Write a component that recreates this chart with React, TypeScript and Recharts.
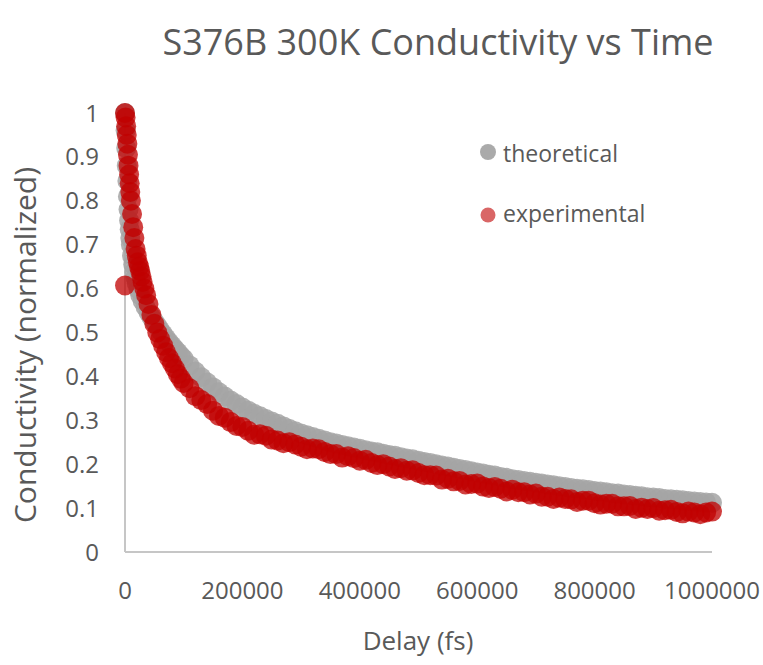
import React from 'react';
import { ScatterChart, Scatter, XAxis, YAxis, Label } from 'recharts';

const chartTitle = 'S376B 300K Conductivity vs Time';
const xTitle = 'Delay (fs)';
const yTitle = 'Conductivity (normalized)';
const seriesNames = ['theoretical', 'experimental'];
const seriesColors = ['#a5a5a5', '#c00000'];

const xTicks = [0, 200000, 400000, 600000, 800000, 1000000];
const yTicks = [0, 0.1, 0.2, 0.3, 0.4, 0.5, 0.6, 0.7, 0.8, 0.9, 1];

// theoretical curve (grey band)
const theoDelay = [
    0, 1000, 2000, 3000, 4000, 5000, 6000, 7000, 8000, 9000, 10000, 12000, 14000, 16000, 18000, 20000,
    23000, 26000, 30000, 35000, 40000, 45000, 50000, 55000, 60000, 65000, 70000, 75000, 80000, 85000,
    90000, 95000, 100000, 110000, 120000, 130000, 140000, 150000, 160000, 170000, 180000, 190000, 200000,
    210000, 220000, 230000, 240000, 250000, 260000, 270000, 280000, 290000, 300000, 310000, 320000,
    330000, 340000, 350000, 360000, 370000, 380000, 390000, 400000, 410000, 420000, 430000, 440000,
    450000, 460000, 470000, 480000, 490000, 500000, 510000, 520000, 530000, 540000, 550000, 560000,
    570000, 580000, 590000, 600000, 610000, 620000, 630000, 640000, 650000, 660000, 670000, 680000,
    690000, 700000, 710000, 720000, 730000, 740000, 750000, 760000, 770000, 780000, 790000, 800000,
    810000, 820000, 830000, 840000, 850000, 860000, 870000, 880000, 890000, 900000, 910000, 920000,
    930000, 940000, 950000, 960000, 970000, 980000, 990000, 1000000,
];
const theoValue = [
    1.0, 0.96, 0.92, 0.88, 0.845, 0.81, 0.78, 0.755, 0.735, 0.715, 0.7, 0.675, 0.655, 0.638, 0.625, 0.612,
    0.598, 0.585, 0.572, 0.558, 0.546, 0.535, 0.525, 0.515, 0.505, 0.496, 0.487, 0.478, 0.47, 0.462,
    0.455, 0.447, 0.44, 0.425, 0.411, 0.398, 0.386, 0.375, 0.364, 0.354, 0.345, 0.337, 0.329,
    0.322, 0.315, 0.309, 0.303, 0.297, 0.292, 0.286, 0.28, 0.275, 0.27, 0.266, 0.262,
    0.258, 0.254, 0.25, 0.247, 0.244, 0.241, 0.238, 0.235, 0.232, 0.229, 0.227, 0.224,
    0.221, 0.219, 0.216, 0.213, 0.211, 0.208, 0.205, 0.203, 0.2, 0.197, 0.195, 0.192,
    0.189, 0.187, 0.184, 0.181, 0.179, 0.176, 0.174, 0.171, 0.169, 0.166, 0.164, 0.162,
    0.16, 0.158, 0.156, 0.154, 0.152, 0.15, 0.148, 0.146, 0.144, 0.143, 0.141, 0.139,
    0.138, 0.136, 0.134, 0.133, 0.131, 0.13, 0.128, 0.127, 0.125, 0.124, 0.123, 0.121,
    0.12, 0.119, 0.118, 0.116, 0.115, 0.114, 0.113, 0.112,
];

// experimental points (red)
const expDelay = [
    0, 0, 1000, 2000, 3000, 4000, 5000, 6000, 7000, 8000, 9000, 10000, 12000, 14000, 16000, 18000, 20000,
    22000, 24000, 26000, 28000, 30000, 33000, 36000, 40000, 45000, 50000, 55000, 60000, 65000, 70000,
    75000, 80000, 85000, 90000, 95000, 100000, 110000, 120000, 130000, 140000, 150000, 160000, 170000,
    180000, 190000, 200000, 210000, 220000, 230000, 240000, 250000, 260000, 270000, 280000, 290000,
    300000, 310000, 320000, 330000, 340000, 350000, 360000, 370000, 380000, 390000, 400000, 410000,
    420000, 430000, 440000, 450000, 460000, 470000, 480000, 490000, 500000, 510000, 520000, 530000,
    540000, 550000, 560000, 570000, 580000, 590000, 600000, 610000, 620000, 630000, 640000, 650000,
    660000, 670000, 680000, 690000, 700000, 710000, 720000, 730000, 740000, 750000, 760000, 770000,
    780000, 790000, 800000, 810000, 820000, 830000, 840000, 850000, 860000, 870000, 880000, 890000,
    900000, 910000, 920000, 930000, 940000, 950000, 960000, 970000, 980000, 990000, 1000000,
];
const expValue = [
    1.0, 0.607, 0.99, 0.97, 0.95, 0.93, 0.905, 0.88, 0.86, 0.84, 0.82, 0.8, 0.77, 0.74, 0.715, 0.69, 0.675,
    0.66, 0.65, 0.64, 0.628, 0.615, 0.6, 0.585, 0.565, 0.54, 0.52, 0.5, 0.485, 0.47, 0.455,
    0.442, 0.43, 0.418, 0.405, 0.395, 0.385, 0.373, 0.355, 0.346, 0.337, 0.322, 0.31, 0.306,
    0.296, 0.287, 0.285, 0.276, 0.267, 0.268, 0.265, 0.256, 0.254, 0.248, 0.25, 0.245,
    0.24, 0.234, 0.236, 0.234, 0.228, 0.223, 0.223, 0.215, 0.218, 0.214, 0.208, 0.21,
    0.203, 0.198, 0.2, 0.195, 0.189, 0.191, 0.185, 0.186, 0.18, 0.175, 0.175, 0.174,
    0.165, 0.167, 0.161, 0.162, 0.154, 0.155, 0.156, 0.149, 0.146, 0.148, 0.144, 0.138,
    0.142, 0.136, 0.136, 0.131, 0.133, 0.126, 0.126, 0.121, 0.124, 0.121, 0.12, 0.114,
    0.117, 0.117, 0.111, 0.108, 0.11, 0.11, 0.104, 0.104, 0.105, 0.098, 0.101, 0.098,
    0.1, 0.094, 0.095, 0.096, 0.091, 0.088, 0.092, 0.09, 0.086, 0.09, 0.092,
];

const theoData = theoDelay.map((x, i) => ({ x, y: theoValue[i] }));
const expData = expDelay.map((x, i) => ({ x, y: expValue[i] }));

const FONT = "'Open Sans', sans-serif";
const TEXT = '#595959';
const AXIS = '#c6c6c6';

const makeDot = (fill: string, opacity: number) => (props: any) => (
    <circle cx={props.cx} cy={props.cy} r={10} fill={fill} fillOpacity={opacity} />
);

export default function App() {
    return (
        <div style={{ position: 'absolute', left: 0, top: 0, width: 763, height: 665, background: '#fff' }}>
            <ScatterChart width={763} height={665} margin={{ top: 113, right: 51, bottom: 53, left: 0 }}>
                <XAxis
                    type="number"
                    dataKey="x"
                    domain={[0, 1000000]}
                    ticks={xTicks}
                    interval={0}
                    height={60}
                    axisLine={{ stroke: AXIS, strokeWidth: 2 }}
                    tickLine={false}
                    tickSize={0}
                    tickMargin={30}
                    tick={{ fill: TEXT, fontSize: 24, fontFamily: FONT }}
                >
                    <Label
                        content={() => (
                            <text x={418} y={650} textAnchor="middle" fill={TEXT} fontSize={26} fontFamily={FONT}>
                                {xTitle}
                            </text>
                        )}
                    />
                </XAxis>
                <YAxis
                    type="number"
                    dataKey="y"
                    domain={[0, 1]}
                    ticks={yTicks}
                    interval={0}
                    width={125}
                    axisLine={{ stroke: AXIS, strokeWidth: 2 }}
                    tickLine={false}
                    tickSize={0}
                    tickMargin={26}
                    tick={{ fill: TEXT, fontSize: 24, fontFamily: FONT }}
                >
                    <Label
                        content={() => (
                            <text
                                x={36}
                                y={345}
                                transform="rotate(-90 36 345)"
                                textAnchor="middle"
                                fill={TEXT}
                                fontSize={30}
                                fontFamily={FONT}
                            >
                                {yTitle}
                            </text>
                        )}
                    />
                </YAxis>
                <Scatter
                    name={seriesNames[0]}
                    data={theoData}
                    shape={makeDot(seriesColors[0], 0.85)}
                    isAnimationActive={false}
                />
                <Scatter
                    name={seriesNames[1]}
                    data={expData}
                    shape={makeDot(seriesColors[1], 0.75)}
                    isAnimationActive={false}
                />
            </ScatterChart>
            <svg
                width={763}
                height={665}
                style={{ position: 'absolute', left: 0, top: 0, pointerEvents: 'none' }}
            >
                <text x={438} y={55} textAnchor="middle" fill={TEXT} fontSize={36} fontFamily={FONT}>
                    {chartTitle}
                </text>
                <circle cx={488} cy={152} r={8} fill={seriesColors[0]} fillOpacity={0.95} />
                <text x={503} y={162} fill={TEXT} fontSize={23} fontFamily={FONT}>
                    {seriesNames[0]}
                </text>
                <circle cx={488} cy={215} r={7.5} fill={seriesColors[1]} fillOpacity={0.6} />
                <text x={503} y={222} fill={TEXT} fontSize={23} fontFamily={FONT}>
                    {seriesNames[1]}
                </text>
            </svg>
        </div>
    );
}
